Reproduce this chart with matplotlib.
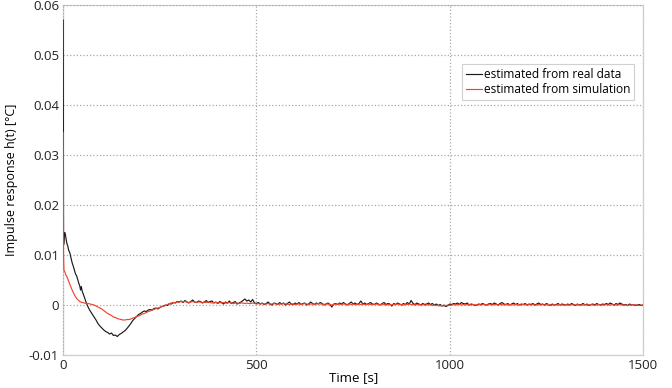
import numpy as np
import matplotlib
matplotlib.use("Agg")
import matplotlib.pyplot as plt

plt.rcParams['font.family'] = ['Open Sans', 'DejaVu Sans']

# time grid: dense start, then every 5 s
t_early_real = [0, 1, 2, 3, 4, 6, 8, 10, 12, 14, 17, 20, 23, 26, 29, 32, 35, 38, 41, 43, 45, 47, 49, 52, 55, 58, 60]
t_early_sim = [0, 1, 2, 3, 5, 7, 10, 13, 16, 20, 25, 30, 35, 40, 45, 50, 55, 60]
t_tail = np.arange(65, 1501, 5)

# values in units of 1e-4 degC
real_early = [570, 120, 125, 140, 145, 140, 130, 122, 118, 110, 105, 95, 85, 78, 70, 62, 58, 50, 42, 38,
              30, 37, 28, 22, 15, 8, 4]
real_tail = [
    # 65-300
    -5, -12, -18, -24, -30, -37, -42, -46, -50, -53, -55, -58, -56, -61, -60, -63, -59, -57, -54, -51,
    -47, -42, -37, -31, -27, -23, -19, -17, -14, -12, -13, -10, -9, -10, -7, -6, -8, -5, -3, -2,
    0, -1, 3, 2, 5, 4, 7, 6,
    # 305-1500
    8, 5, 9, 6, 4, 7, 10, 6, 5, 8, 7, 4, 6, 9, 5, 7, 8, 4, 6, 3,
    7, 5, 2, 6, 4, 8, 3, 5, 7, 2, 4, 6, 9, 12, 8, 10, 6, 11, 4, 3,
    5, 2, 4, 1, 3, 6, 2, 0, 4, 3, 1, 5, 2, 4, 0, 3, 6, 2, 1, 4,
    2, 5, 1, 3, 4, 0, 2, 6, 3, 1, 4, 2, 5, 3, 0, 2, 4, 1, -4, 2,
    3, 1, 4, 2, 5, 2, 0, 3, 6, 2, 4, 1, 3, 8, 2, 4, 1, 3, 5, 2,
    1, 4, 2, 0, 3, 5, 1, 3, 2, -2, 3, 1, 4, 2, 0, 3, 1, 5, 2, 9,
    3, 1, 4, 2, 0, 3, 1, 2, 4, 1, 3, 0, 2, -1, 1, -2, 0, -3, -1, 2,
    1, 3, 2, 4, 1, 5, 3, 2, 4, 0, 2, 1, -1, 0, 2, 1, 3, 1, 0, 2,
    3, 1, 4, 2, 0, 3, 5, 2, 1, 3, 0, 2, 4, 1, 3, 0, 2, 1, 3, 0,
    2, 1, 3, 0, 2, 4, 1, 2, 0, 3, 1, -1, 2, 0, 1, 3, 0, 2, 1, 0,
    2, 0, 3, 1, -1, 2, 0, 1, 3, 0, 2, -1, 1, 2, 0, 3, 1, 0, 2, 1,
    3, 1, 4, 2, 0, 3, 1, 4, 2, 0, 1, -1, 2, 0, 1, -1, 0, 1, -1, 0,
]

sim_early = [345, 100, 70, 68, 65, 60, 56, 50, 44, 36, 27, 19, 13, 9, 6, 5, 4, 3]
sim_tail = [
    # 65-300
    3, 2, 1, 0, -2, -4, -6, -8, -11, -14, -17, -19, -21, -24, -25, -27, -28, -29, -30, -30,
    -29, -29, -28, -26, -25, -23, -22, -20, -18, -17, -15, -13, -12, -10, -9, -7, -6, -5, -3, -2,
    -1, 1, 3, 4, 5, 5, 6, 6,
    # 305-1500
    7, 6, 7, 6, 5, 6, 7, 6, 5, 6, 6, 5, 6, 5, 6, 5, 4, 5, 5, 4,
    5, 4, 5, 4, 4, 5, 4, 3, 4, 4, 3, 4, 4, 3, 4, 3, 3, 4, 3, 2,
    3, 2, 3, 2, 2, 3, 2, 2, 3, 2, 1, 2, 2, 3, 2, 2, 1, 2, 2, 1,
    2, 2, 1, 2, 3, 2, 1, 2, 2, 1, 2, 3, 2, 2, 1, 2, 2, 1, 0, 1,
    2, 1, 2, 1, 2, 2, 1, 2, 1, 2, 1, 1, 2, 1, 2, 1, 1, 2, 1, 1,
    1, 2, 1, 1, 2, 1, 0, 1, 1, 0, 1, 1, 2, 1, 1, 0, 1, 1, 2, 1,
    1, 0, 1, 1, 0, 1, 0, 0, 1, 0, -1, 0, -1, -1, -2, -1, -2, -1, 0, -1,
    0, 1, 0, 1, 1, 0, 1, 0, 1, 1, 0, 1, 0, 0, 1, 0, 1, 1, 0, 1,
    1, 0, 1, 1, 0, 1, 1, 0, 1, 0, 1, 1, 0, 1, 0, 1, 0, 1, 1, 0,
    1, 0, 1, 0, 0, 1, 0, 1, 0, 0, 1, 0, 0, 1, 0, 0, 1, 0, 0, 1,
    0, 0, 1, 0, 0, 1, 0, 0, 0, 1, 0, 0, 1, 0, 0, 0, 1, 0, 0, 0,
    1, 0, 0, 1, 0, 0, 0, 1, 0, 0, 0, -1, 0, 0, 1, 0, 0, -1, 0, 0,
]

t_real = np.concatenate([t_early_real, t_tail])
h_real = np.array(real_early + real_tail) * 1e-4
t_sim = np.concatenate([t_early_sim, t_tail])
h_sim = np.array(sim_early + sim_tail) * 1e-4

fig = plt.figure(figsize=(6.72, 3.88), dpi=100)
ax = fig.add_axes([0.094, 0.085, 0.863, 0.902])

ax.plot(t_real, h_real, color='#1a1a1a', lw=0.85, zorder=3, label='estimated from real data')
ax.plot(t_sim, h_sim, color='#f0452d', lw=0.85, zorder=4, label='estimated from simulation')

ax.set_xlim(0, 1500)
ax.set_ylim(-0.01, 0.06)
ax.set_xticks([0, 500, 1000, 1500])
ax.set_yticks([-0.01, 0, 0.01, 0.02, 0.03, 0.04, 0.05, 0.06])
ax.set_yticklabels(['-0.01', '0', '0.01', '0.02', '0.03', '0.04', '0.05', '0.06'])
ax.tick_params(length=0, labelsize=9.5, pad=3, colors='#222222')
ax.grid(True, linestyle=':', color='#a8a8a8', lw=0.9)
for s in ax.spines.values():
    s.set_color('#cfcfcf')
    s.set_linewidth(0.9)
    s.set_zorder(1)

ax.set_xlabel('Time [s]', fontsize=9.5, labelpad=-1)
ax.set_ylabel('Impulse response h(t) [°C]', fontsize=9, labelpad=8)

leg = ax.legend(loc='upper left', bbox_to_anchor=(0.688, 0.832), fontsize=8.6, handlelength=1.3,
                handletextpad=0.15, borderpad=0.35, labelspacing=0.15, borderaxespad=0,
                fancybox=False, framealpha=1)
leg.get_frame().set_edgecolor('#d0d0d0')
leg.get_frame().set_linewidth(0.8)

fig.savefig('out.png', dpi=100)
